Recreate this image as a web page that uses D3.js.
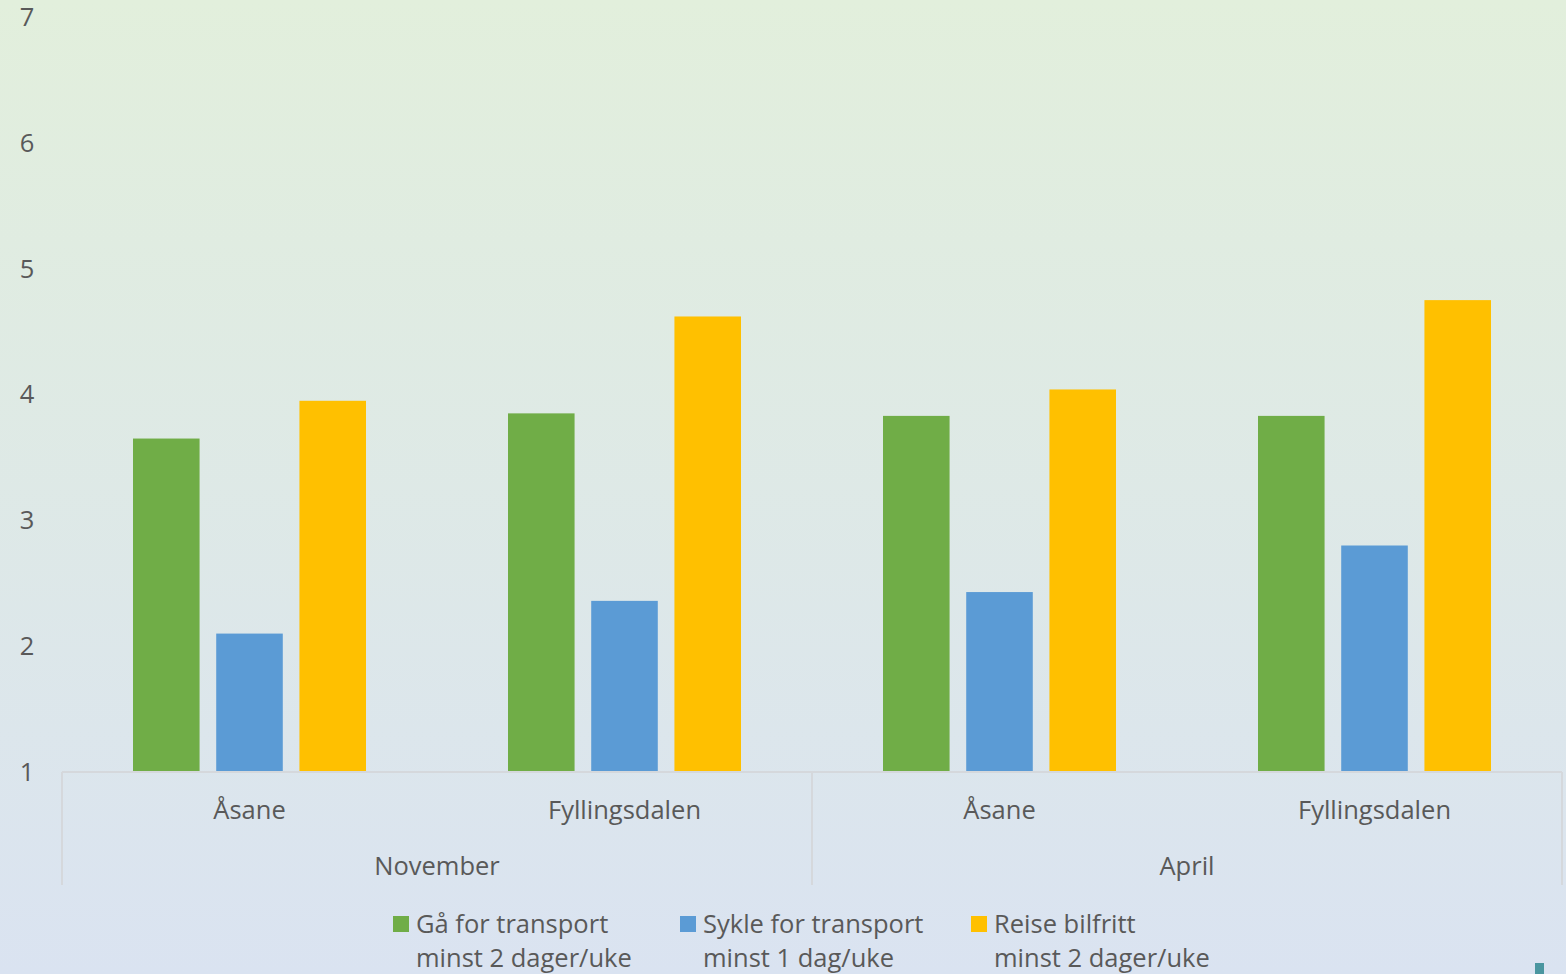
<!DOCTYPE html>
<html>
<head>
<meta charset="utf-8">
<script src="https://cdn.jsdelivr.net/npm/d3@7"></script>
<style>
  body { margin: 0; overflow: hidden; }
  text { font-family: "Open Sans", "Noto Sans", sans-serif; fill: #595959; }
</style>
</head>
<body>
<div id="chart"></div>
<script>
// data
var periods = ["November", "April"];
var places = ["Åsane", "Fyllingsdalen"];
var seriesNames = ["Gå for transport", "Sykle for transport", "Reise bilfritt"];
var seriesSub = ["minst 2 dager/uke", "minst 1 dag/uke", "minst 2 dager/uke"];
var seriesColors = ["#70ad47", "#5b9bd5", "#ffc000"];
var yTicks = [1, 2, 3, 4, 5, 6, 7];

var gaValues = [3.65, 3.85, 3.83, 3.83];
var sykleValues = [2.10, 2.36, 2.43, 2.80];
var reiseValues = [3.95, 4.62, 4.04, 4.75];

var width = 1566,
	height = 974;

var margin = {left: 62, right: 4, top: 17, bottom: 202};
var fontSize = 25.5;

var svg = d3.select("#chart").append("svg")
	.attr("width", width)
	.attr("height", height);

// background gradient, green at top to blue at bottom
var grad = svg.append("defs").append("linearGradient")
	.attr("id", "bg")
	.attr("x1", 0).attr("y1", 0)
	.attr("x2", 0).attr("y2", 1);
grad.append("stop").attr("offset", "0%").attr("stop-color", "#e2efdc");
grad.append("stop").attr("offset", "100%").attr("stop-color", "#dae3f1");

svg.append("rect")
	.attr("width", width)
	.attr("height", height)
	.attr("fill", "url(#bg)");

// build the flat list of categories
var cats = [];
periods.forEach(function(p){
	places.forEach(function(pl){
		cats.push({period: p, place: pl});
	});
});
cats.forEach(function(c, i){
	c.key = i;
	c.values = [gaValues[i], sykleValues[i], reiseValues[i]];
});

var x0 = d3.scaleBand()
	.domain(cats.map(d => d.key))
	.range([margin.left, width - margin.right]);

var x1 = d3.scaleBand()
	.domain([0, 1, 2])
	.range([71, x0.bandwidth() - 71])
	.paddingInner(0.2);

var y = d3.scaleLinear()
	.domain([1, 7])
	.range([height - margin.bottom, margin.top]);

// y tick labels (no axis line)
svg.append("g")
	.selectAll("text")
	.data(yTicks)
	.enter()
	.append("text")
	.attr("x", 27)
	.attr("y", d => y(d))
	.attr("dy", "0.35em")
	.attr("text-anchor", "middle")
	.attr("font-size", fontSize)
	.text(d => d);

// bars
var group = svg.append("g")
	.selectAll("g")
	.data(cats)
	.enter()
	.append("g")
	.attr("transform", d => "translate(" + x0(d.key) + ",0)");

group.selectAll("rect")
	.data(d => d.values)
	.enter()
	.append("rect")
	.attr("x", (d, i) => x1(i))
	.attr("y", d => y(d))
	.attr("width", x1.bandwidth())
	.attr("height", d => y(1) - y(d))
	.attr("fill", (d, i) => seriesColors[i]);

// category axis with grouped labels
var axisY = y(1);
var lineColor = "#d5d8dc";
var axisG = svg.append("g");

axisG.append("line")
	.attr("x1", margin.left).attr("x2", width - margin.right)
	.attr("y1", axisY).attr("y2", axisY)
	.attr("stroke", lineColor).attr("stroke-width", 2);

var periodWidth = x0.bandwidth() * places.length;
var dividers = d3.range(periods.length + 1).map(i => margin.left + i * periodWidth);

axisG.selectAll(".divider")
	.data(dividers)
	.enter()
	.append("line")
	.attr("class", "divider")
	.attr("x1", d => d).attr("x2", d => d)
	.attr("y1", axisY).attr("y2", axisY + 113)
	.attr("stroke", lineColor).attr("stroke-width", 2);

axisG.selectAll(".place")
	.data(cats)
	.enter()
	.append("text")
	.attr("class", "place")
	.attr("x", d => x0(d.key) + x0.bandwidth() / 2)
	.attr("y", axisY + 47)
	.attr("text-anchor", "middle")
	.attr("font-size", fontSize)
	.text(d => d.place);

axisG.selectAll(".period")
	.data(periods)
	.enter()
	.append("text")
	.attr("class", "period")
	.attr("x", (d, i) => margin.left + i * periodWidth + periodWidth / 2)
	.attr("y", axisY + 103)
	.attr("text-anchor", "middle")
	.attr("font-size", fontSize)
	.text(d => d);

// legend
var legendX = [393, 680, 971];
var legend = svg.append("g")
	.selectAll("g")
	.data(seriesNames)
	.enter()
	.append("g")
	.attr("transform", (d, i) => "translate(" + legendX[i] + ",916)");

legend.append("rect")
	.attr("width", 16).attr("height", 16)
	.attr("fill", (d, i) => seriesColors[i]);

legend.append("text")
	.attr("x", 23).attr("y", 17)
	.attr("font-size", fontSize)
	.text(d => d);

legend.append("text")
	.attr("x", 23).attr("y", 51)
	.attr("font-size", fontSize)
	.text((d, i) => seriesSub[i]);

// small marker in bottom right corner
svg.append("rect")
	.attr("x", 1535).attr("y", 963)
	.attr("width", 9).attr("height", 11)
	.attr("fill", "#4a96a0");
</script>
</body>
</html>
